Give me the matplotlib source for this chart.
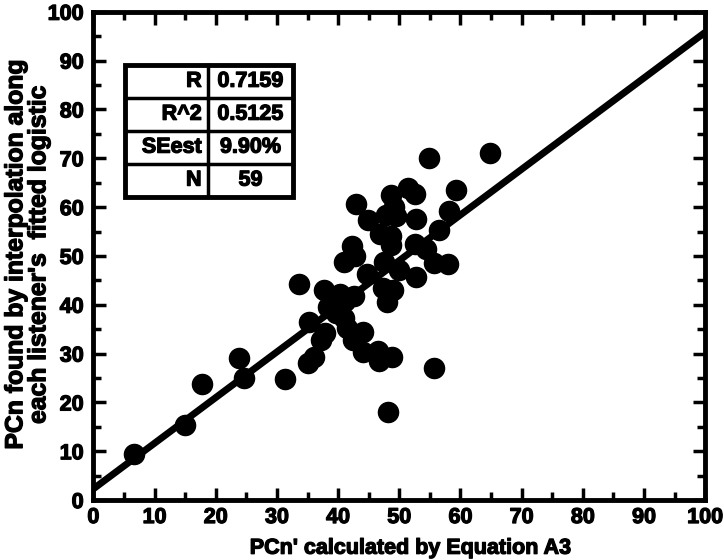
import numpy as np
from matplotlib import pyplot as plt
from matplotlib.patches import Rectangle
import matplotlib.patheffects as pe

plt.rcParams['font.family'] = ['Liberation Sans', 'DejaVu Sans']
plt.rcParams['font.weight'] = 'bold'

# PCn' calculated by Equation A3
pcn_calc = [6.7, 15.0, 17.8, 23.8, 24.6, 31.3, 33.6, 35.3, 35.1, 36.0,
            37.2, 37.7, 38.4, 37.8, 40.3, 40.9, 41.5, 42.4, 40.9, 42.3,
            42.7, 42.6, 43.0, 44.0, 44.1, 44.8, 44.9, 46.5, 46.7, 46.9,
            47.8, 47.5, 47.4, 48.2, 48.0, 48.6, 48.9, 48.8, 49.1, 48.7,
            48.6, 49.5, 49.9, 51.4, 52.5, 52.7, 52.8, 52.5, 54.3, 54.8,
            55.6, 55.7, 56.5, 57.9, 58.2, 59.2, 64.8, 39.7, 41.1]
# PCn found by interpolation along each listener's fitted logistic
pcn_found = [9.5, 15.3, 23.7, 29.0, 25.0, 24.7, 44.2, 36.4, 28.1, 29.2,
             32.8, 43.1, 39.5, 34.3, 42.2, 37.2, 35.3, 32.7, 48.7, 52.0,
             49.9, 41.8, 60.7, 34.5, 30.4, 46.3, 57.4, 30.5, 28.4, 54.4,
             58.3, 48.7, 43.5, 18.0, 40.5, 62.5, 43.1, 29.2, 60.1, 54.1,
             52.3, 58.1, 47.2, 63.9, 62.6, 57.5, 45.7, 52.5, 51.5, 70.1,
             48.6, 27.1, 55.4, 48.4, 59.2, 63.4, 71.0, 38.3, 40.8]

fit_intercept = 2.3
fit_slope = 0.935

stat_names = ['R', 'R^2', 'SEest', 'N']
stat_values = ['0.7159', '0.5125', '9.90%', '59']

# thicken the glyphs a bit, the original lettering is very heavy
heavy = [pe.withStroke(linewidth=0.9, foreground='black')]


def draw_stats(ax):
    # box of the stats table, in axes fractions
    left, right, mid = 0.0515, 0.3258, 0.1877
    top, bottom = 0.8914, 0.6215
    tr = ax.transAxes
    ax.add_patch(Rectangle((left, bottom), right - left, top - bottom,
                           transform=tr, fc='white', ec='black', lw=3.5,
                           zorder=6))
    rh = (top - bottom) / len(stat_names)
    ax.plot([mid, mid], [bottom, top], color='black', lw=2.5,
            transform=tr, zorder=7)
    for i in range(1, len(stat_names)):
        yy = top - i * rh
        ax.plot([left, right], [yy, yy], color='black', lw=2.5,
                transform=tr, zorder=7)
    for i, (n, v) in enumerate(zip(stat_names, stat_values)):
        yc = top - (i + 0.5) * rh
        ax.text(mid - 0.011, yc, n, transform=tr, ha='right', va='center',
                fontsize=15.5, fontweight='bold', zorder=8, path_effects=heavy)
        ax.text((mid + right) / 2, yc, v, transform=tr, ha='center',
                va='center', fontsize=15.5, fontweight='bold', zorder=8,
                path_effects=heavy)


def make_plot():
    fig = plt.figure(figsize=(7.24, 5.6), dpi=100)
    ax = fig.add_axes([0.129, 0.107, 0.845, 0.872])

    xs = np.array([0, 100])
    ax.plot(xs, fit_intercept + fit_slope * xs, color='black', lw=5,
            solid_capstyle='butt', zorder=2)
    ax.plot(pcn_calc, pcn_found, 'o', color='black', ms=14.5, zorder=3)

    ax.set_xlim(0, 100)
    ax.set_ylim(0, 100)
    ticks = np.arange(0, 101, 10)
    ax.set_xticks(ticks, [str(t) for t in ticks], fontweight='bold', fontsize=15.5)
    ax.set_yticks(ticks, [str(t) for t in ticks], fontweight='bold', fontsize=15.5)
    ax.set_xticks(np.arange(5, 100, 10), minor=True)
    ax.set_yticks(np.arange(5, 100, 10), minor=True)
    ax.tick_params(which='both', direction='in', top=True, right=True,
                   width=2.5)
    ax.tick_params(which='major', length=9)
    ax.tick_params(axis='x', which='major', pad=5)
    ax.tick_params(axis='y', which='major', pad=7)
    ax.tick_params(which='minor', length=6)
    for lab in ax.get_xticklabels() + ax.get_yticklabels():
        lab.set_path_effects(heavy)
    for sp in ax.spines.values():
        sp.set_linewidth(3.5)

    fig.text(0.567, 0.021, "PCn' calculated by Equation A3", fontsize=15.5,
             fontweight='bold', ha='center', va='center', path_effects=heavy)
    fig.text(0.037, 0.545,
             "PCn found by interpolation along\neach listener's  fitted logistic",
             fontsize=17.8, fontweight='bold', rotation=90, ha='center',
             va='center', linespacing=0.95, path_effects=heavy)

    draw_stats(ax)

    fig.savefig('out.png', dpi=100)


if __name__ == "__main__":
    make_plot()
